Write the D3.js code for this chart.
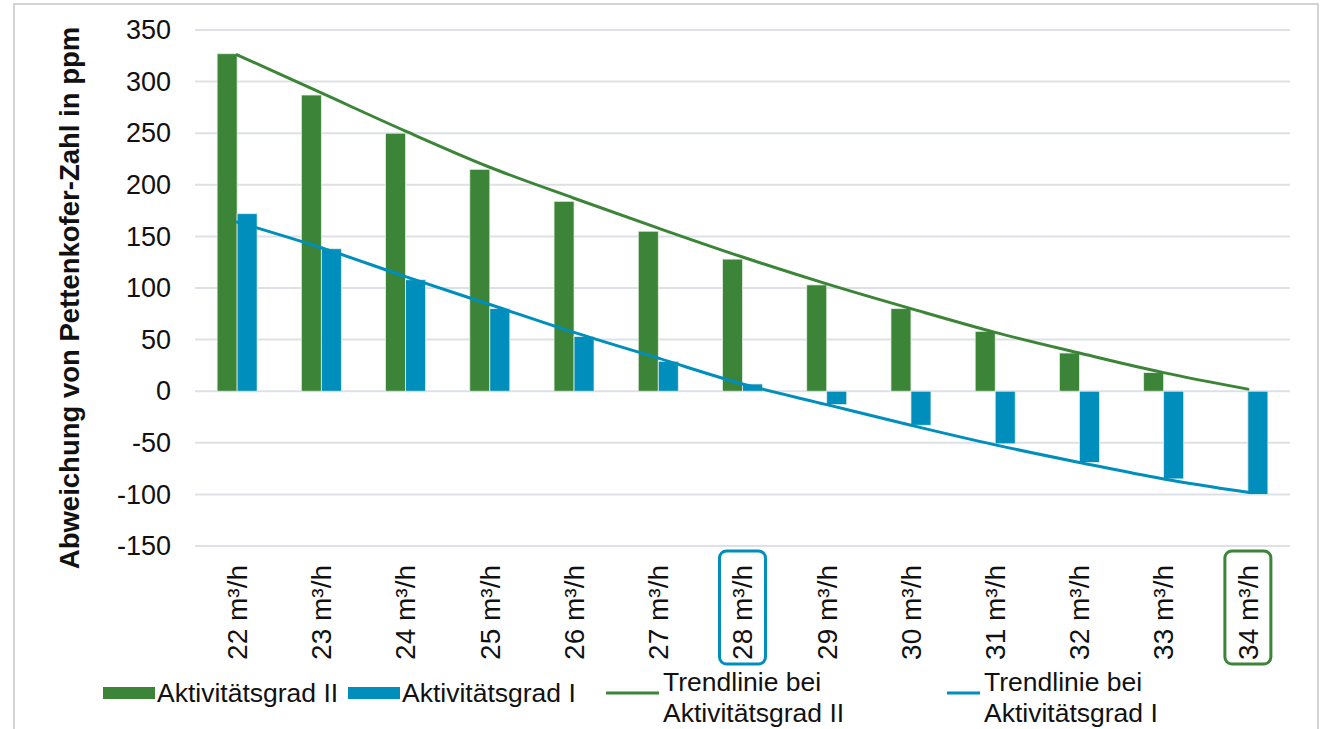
<!DOCTYPE html>
<html>
<head>
<meta charset="utf-8">
<script src="https://cdn.jsdelivr.net/npm/d3@7"></script>
<style>
  html, body { margin: 0; padding: 0; background: #fff; }
  svg { display: block; font-family: "Liberation Sans", Arial, sans-serif; }
</style>
</head>
<body>
<svg id="chart" width="1322" height="729"></svg>
<script>
// Luftvolumenstrom je Person
const categories = ["22 m³/h", "23 m³/h", "24 m³/h", "25 m³/h", "26 m³/h", "27 m³/h", "28 m³/h",
                    "29 m³/h", "30 m³/h", "31 m³/h", "32 m³/h", "33 m³/h", "34 m³/h"];

// Abweichung von der Pettenkofer-Zahl (ppm)
const aktivitaetII = [327, 287, 250, 215, 184, 155, 128, 103, 80, 58, 37, 18, 0];
const aktivitaetI  = [172, 138, 108, 80, 53, 29, 7, -13, -33, -51, -69, -85, -100];

// Trendlinien
const trendII = [326, 289, 252, 217, 187, 158, 130, 104, 80, 57, 37, 18, 2];
const trendI  = [164, 139, 111, 84, 57, 32, 7, -13, -33, -52, -69, -85, -98];

const yTicks = [350, 300, 250, 200, 150, 100, 50, 0, -50, -100, -150];

const seriesNames = ["Aktivitätsgrad II", "Aktivitätsgrad I"];
const trendNames = [["Trendlinie bei", "Aktivitätsgrad II"], ["Trendlinie bei", "Aktivitätsgrad I"]];

// Hervorgehobene Achsenbeschriftungen
const highlighted = [{ cat: "28 m³/h", series: 1 }, { cat: "34 m³/h", series: 0 }];

const colors = ["#3c8437", "#008ebc"];
const gridColor = "#dde1e6";

const svg = d3.select("#chart");

// Rahmen
svg.append("rect")
  .attr("x", 14).attr("y", 4)
  .attr("width", 1304).attr("height", 760)
  .attr("fill", "none").attr("stroke", "#d4d4d4").attr("stroke-width", 2);

const x = d3.scaleBand().domain(categories).range([195, 1290]).paddingInner(0).paddingOuter(0);
const y = d3.scaleLinear().domain([-150, 350]).range([546, 30]);
const barW = 20;
const xs = d3.scaleBand().domain([0, 1])
  .range([x.bandwidth() / 2 - barW, x.bandwidth() / 2 + barW]);

// Gitterlinien
svg.append("g")
  .selectAll("line").data(yTicks).join("line")
  .attr("x1", 195).attr("x2", 1290)
  .attr("y1", d => y(d)).attr("y2", d => y(d))
  .attr("stroke", gridColor).attr("stroke-width", 2);

// y-Achse
const yAxis = svg.append("g")
  .attr("transform", "translate(171,0)")
  .call(d3.axisLeft(y).tickValues(yTicks).tickFormat(d => String(d)).tickSize(0).tickPadding(0));
yAxis.select(".domain").remove();
yAxis.selectAll("text")
  .attr("font-size", 27).attr("fill", "#111")
  .attr("font-family", "Liberation Sans, Arial, sans-serif");

svg.append("text")
  .attr("transform", "translate(79,298) rotate(-90)")
  .attr("text-anchor", "middle")
  .attr("font-size", 27.5).attr("font-weight", "bold").attr("fill", "#111")
  .text("Abweichung von Pettenkofer-Zahl in ppm");

// Säulen
const series = [aktivitaetII, aktivitaetI];
series.forEach((vals, si) => {
  svg.append("g")
    .selectAll("rect").data(vals.map((v, i) => ({ v, c: categories[i] })).filter(d => d.v !== 0))
    .join("rect")
    .attr("x", d => x(d.c) + xs(si))
    .attr("width", xs.bandwidth())
    .attr("y", d => y(Math.max(0, d.v)))
    .attr("height", d => Math.abs(y(d.v) - y(0)))
    .attr("fill", colors[si])
    .attr("stroke", "#e3ece3").attr("stroke-width", 0.8);
});

// Trendlinien
const line = d3.line()
  .x((d, i) => x(categories[i]) + x.bandwidth() / 2)
  .y(d => y(d))
  .curve(d3.curveCatmullRom);
[trendII, trendI].forEach((vals, si) => {
  svg.append("path")
    .datum(vals)
    .attr("d", line)
    .attr("fill", "none")
    .attr("stroke", colors[si])
    .attr("stroke-width", 3)
    .attr("stroke-linecap", "round");
});

// x-Achsenbeschriftung
const xAxis = svg.append("g")
  .attr("transform", "translate(0,546)")
  .call(d3.axisBottom(x).tickSize(0).tickPadding(0));
xAxis.select(".domain").remove();
xAxis.selectAll("text")
  .attr("font-size", 28).attr("fill", "#111")
  .attr("font-family", "Liberation Sans, Arial, sans-serif")
  .attr("text-anchor", "end")
  .attr("dy", "0.35em")
  .attr("transform", "translate(0,19) rotate(-90)")
  .attr("x", 0).attr("y", 0);

// Markierungsrahmen
svg.append("g")
  .selectAll("rect").data(highlighted).join("rect")
  .attr("x", d => x(d.cat) + x.bandwidth() / 2 - 23)
  .attr("y", 551)
  .attr("width", 46).attr("height", 113)
  .attr("rx", 7)
  .attr("fill", "none")
  .attr("stroke", d => colors[d.series])
  .attr("stroke-width", 3);

// Legende
const legend = svg.append("g").attr("font-size", 26.5).attr("fill", "#111");
const boxX = [103, 348];
seriesNames.forEach((name, i) => {
  legend.append("rect")
    .attr("x", boxX[i]).attr("y", 687).attr("width", 52).attr("height", 12)
    .attr("fill", colors[i]);
  legend.append("text")
    .attr("x", boxX[i] + 54).attr("y", 702)
    .attr("fill", "#111")
    .text(name);
});
const lineX = [606, 947];
trendNames.forEach((lines, i) => {
  legend.append("line")
    .attr("x1", lineX[i]).attr("x2", lineX[i] + (i === 0 ? 53 : 33))
    .attr("y1", 693).attr("y2", 693)
    .attr("stroke", colors[i]).attr("stroke-width", 3);
  const tx = lineX[i] + (i === 0 ? 57 : 37);
  lines.forEach((t, j) => {
    legend.append("text")
      .attr("x", tx).attr("y", 691 + j * 31)
      .attr("fill", "#111")
      .text(t);
  });
});
</script>
</body>
</html>
